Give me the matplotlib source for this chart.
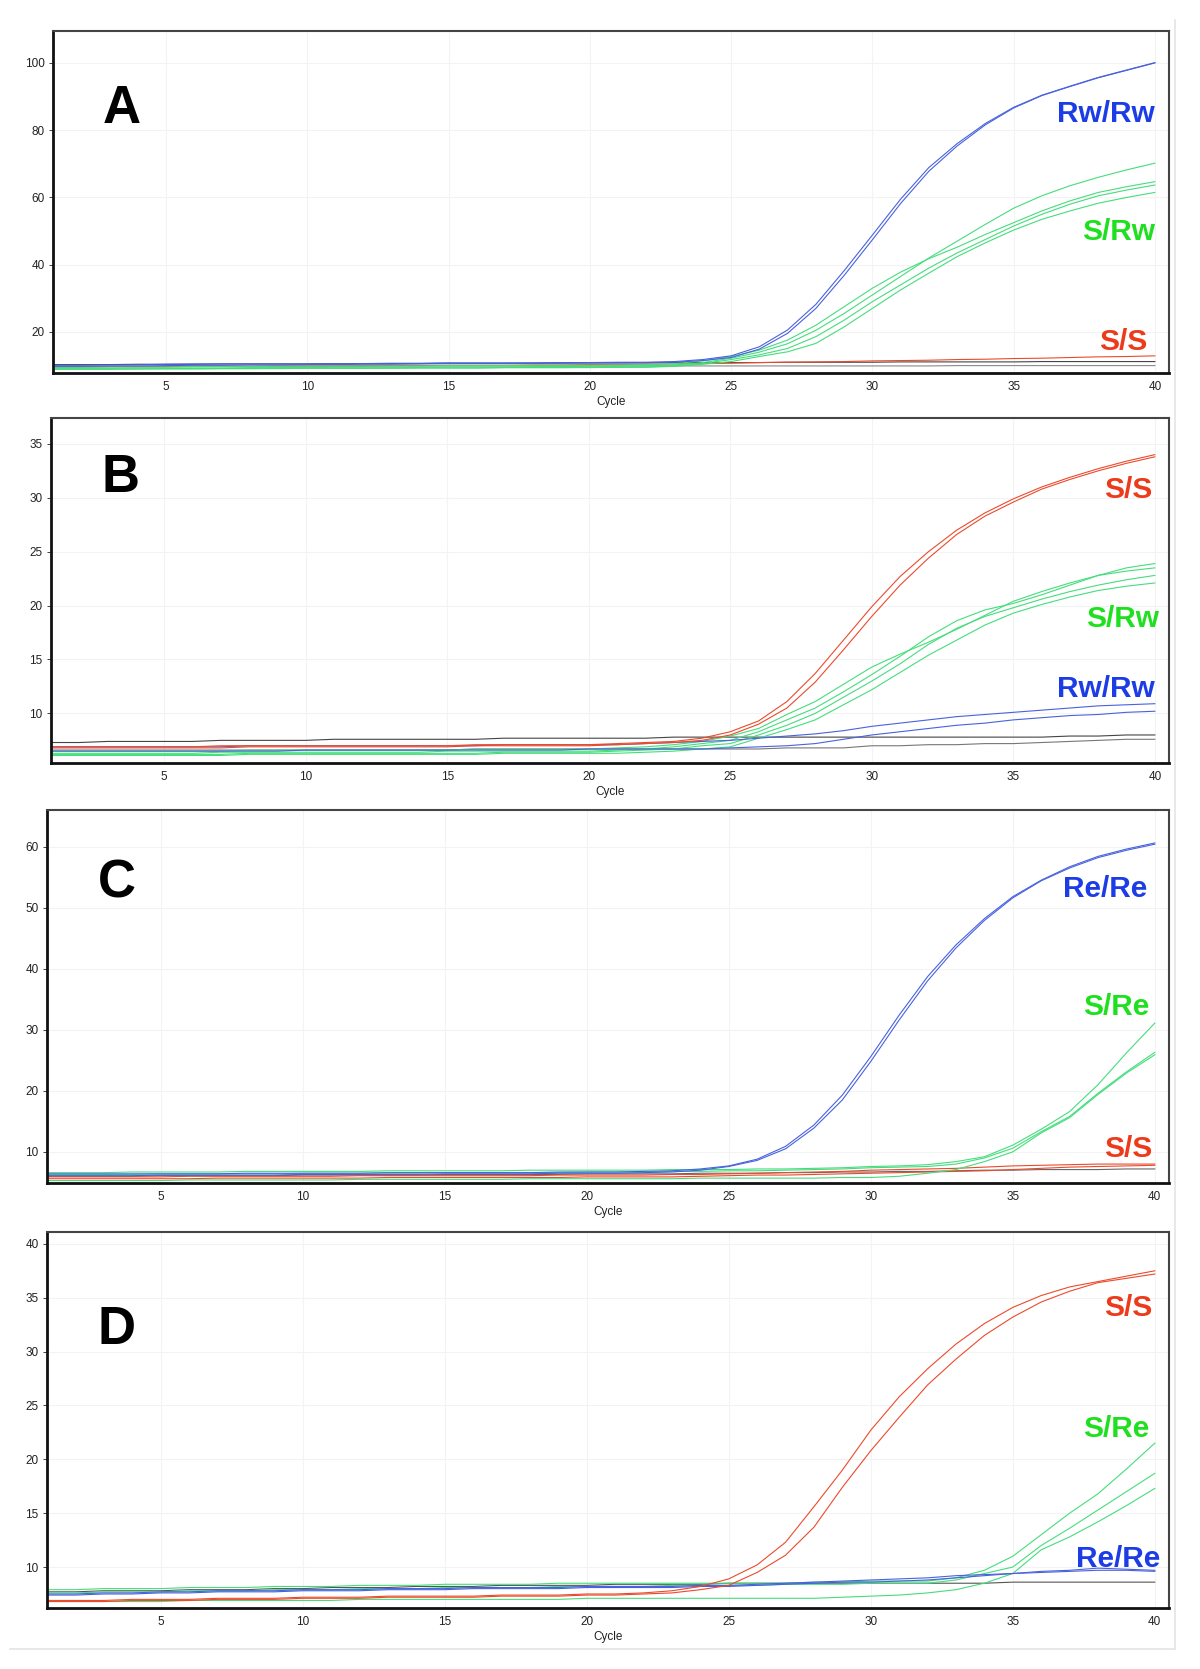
import numpy as np
import matplotlib
matplotlib.use("Agg")
import matplotlib.pyplot as plt
from matplotlib.lines import Line2D

plt.rcParams['font.family'] = ['Liberation Sans', 'DejaVu Sans']

cycles = np.arange(1, 41)

# ---- panel A ----
A_blue1 = [10.1,10.1,10.2,10.2,10.4,10.5,10.5,10.5,10.5,10.5,10.6,10.6,10.7,10.7,10.8,10.8,10.8,10.8,10.9,10.9,
           11.0,11.0,11.2,11.8,12.9,15.6,20.6,28.2,38.2,48.8,59.5,68.9,76.0,82.0,86.8,90.4,93.1,95.7,97.9,100.1]
A_blue2 = [9.8,9.8,9.9,9.9,10.0,10.1,10.1,10.2,10.2,10.3,10.3,10.4,10.4,10.5,10.6,10.6,10.6,10.7,10.7,10.8,
           10.8,10.9,11.0,11.5,12.4,14.9,19.6,27.0,36.8,47.4,58.2,67.8,75.3,81.6,86.6,90.3,93.0,95.6,97.8,100.0]
A_green1 = [9.2,9.2,9.2,9.3,9.3,9.3,9.3,9.4,9.4,9.4,9.5,9.5,9.5,9.5,9.6,9.6,9.6,9.7,9.7,9.8,
            9.8,9.9,10.2,10.9,12.2,14.0,16.5,20.5,25.5,31.0,36.5,42.0,47.0,52.0,56.8,60.5,63.5,66.0,68.2,70.2]
A_green2 = [9.5,9.5,9.6,9.6,9.6,9.7,9.7,9.7,9.8,9.8,9.8,9.9,9.9,9.9,10.0,10.0,10.0,10.1,10.1,10.1,
            10.2,10.3,10.6,11.4,12.7,14.6,17.6,22.0,27.5,33.0,37.8,41.8,45.2,49.0,52.5,56.0,59.0,61.5,63.2,64.7]
A_green3 = [8.9,8.9,8.9,9.0,9.0,9.0,9.1,9.1,9.1,9.2,9.2,9.2,9.2,9.3,9.3,9.3,9.4,9.4,9.4,9.5,
            9.5,9.6,9.9,10.6,11.8,13.2,15.1,18.6,23.5,29.0,34.0,39.0,43.5,47.5,51.5,55.0,58.0,60.5,62.2,63.7]
A_green4 = [9.0,9.0,9.0,9.0,9.1,9.1,9.1,9.1,9.2,9.2,9.2,9.2,9.3,9.3,9.3,9.3,9.4,9.4,9.4,9.4,
            9.5,9.5,9.8,10.4,11.2,12.7,14.1,16.6,21.5,27.0,32.5,37.5,42.4,46.5,50.3,53.5,56.0,58.3,60.0,61.5]
A_red = [9.6,9.6,9.7,9.7,9.7,9.8,9.8,9.8,9.9,9.9,9.9,10.0,10.0,10.0,10.1,10.1,10.1,10.2,10.2,10.3,
         10.3,10.4,10.5,10.6,10.7,10.9,11.0,11.1,11.2,11.4,11.5,11.6,11.8,11.9,12.1,12.2,12.4,12.6,12.7,12.9]
A_black1 = [10.3,10.3,10.3,10.4,10.4,10.4,10.5,10.5,10.5,10.5,10.6,10.6,10.6,10.6,10.7,10.7,10.7,10.7,10.8,10.8,
            10.8,10.8,10.9,10.9,10.9,10.9,11.0,11.0,11.0,11.0,11.1,11.1,11.1,11.1,11.1,11.2,11.2,11.2,11.2,11.2]
A_black2 = [9.7,9.7,9.7,9.7,9.7,9.8,9.8,9.8,9.8,9.8,9.8,9.8,9.9,9.9,9.9,9.9,9.9,9.9,9.9,9.9,
            9.9,9.9,9.9,9.9,9.9,9.9,9.9,9.9,9.9,9.9,9.9,9.9,10.0,10.0,10.0,10.0,10.0,10.0,10.0,10.0]

# ---- panel B ----
B_red1 = [6.9,6.9,6.9,6.9,6.9,6.9,7.0,7.0,7.0,7.0,7.0,7.0,7.0,7.0,7.0,7.1,7.1,7.1,7.1,7.1,
          7.2,7.3,7.4,7.7,8.3,9.3,11.1,13.7,16.8,19.9,22.7,25.0,27.0,28.6,29.9,31.0,31.9,32.7,33.4,34.0]
B_red2 = [6.8,6.8,6.8,6.8,6.8,6.8,6.8,6.9,6.9,6.9,6.9,6.9,6.9,6.9,6.9,7.0,7.0,7.0,7.0,7.0,
          7.1,7.2,7.3,7.5,8.0,9.0,10.5,12.9,15.9,19.0,21.9,24.4,26.6,28.3,29.6,30.8,31.7,32.5,33.2,33.8]
B_green1 = [6.5,6.5,6.5,6.5,6.5,6.5,6.5,6.6,6.6,6.6,6.6,6.6,6.6,6.6,6.6,6.7,6.7,6.7,6.7,6.7,
            6.8,6.9,7.1,7.4,7.9,8.6,9.9,11.1,12.7,14.3,15.5,16.6,17.8,19.1,20.4,21.3,22.1,22.8,23.2,23.5]
B_green2 = [6.3,6.3,6.3,6.3,6.3,6.3,6.4,6.4,6.4,6.4,6.4,6.4,6.4,6.4,6.5,6.5,6.5,6.5,6.5,6.5,
            6.6,6.7,6.9,7.2,7.5,8.3,9.4,10.5,12.0,13.6,15.3,17.1,18.6,19.6,20.2,21.0,21.9,22.8,23.5,23.9]
B_green3 = [6.2,6.2,6.2,6.2,6.2,6.2,6.2,6.3,6.3,6.3,6.3,6.3,6.3,6.3,6.3,6.3,6.4,6.4,6.4,6.4,
            6.5,6.6,6.7,7.0,7.2,8.0,8.9,10.0,11.5,13.0,14.6,16.4,17.9,19.0,19.8,20.6,21.3,21.9,22.4,22.8]
B_green4 = [6.1,6.1,6.1,6.1,6.1,6.1,6.1,6.2,6.2,6.2,6.2,6.2,6.2,6.2,6.2,6.2,6.3,6.3,6.3,6.3,
            6.3,6.4,6.5,6.7,6.9,7.7,8.5,9.4,10.8,12.2,13.8,15.4,16.8,18.2,19.3,20.1,20.8,21.4,21.8,22.1]
B_blue1 = [6.9,6.9,6.9,6.9,6.9,6.9,6.9,7.0,7.0,7.0,7.0,7.0,7.0,7.0,7.0,7.0,7.1,7.1,7.1,7.1,
           7.1,7.2,7.3,7.4,7.5,7.7,7.9,8.1,8.4,8.8,9.1,9.4,9.7,9.9,10.1,10.3,10.5,10.7,10.8,10.9]
B_blue2 = [6.5,6.5,6.5,6.5,6.5,6.5,6.5,6.5,6.5,6.6,6.6,6.6,6.6,6.6,6.6,6.6,6.6,6.6,6.6,6.7,
           6.7,6.7,6.7,6.7,6.8,6.9,7.0,7.2,7.6,8.0,8.3,8.6,8.9,9.1,9.4,9.6,9.8,9.9,10.1,10.2]
B_black1 = [7.3,7.3,7.4,7.4,7.4,7.4,7.5,7.5,7.5,7.5,7.6,7.6,7.6,7.6,7.6,7.6,7.7,7.7,7.7,7.7,
            7.7,7.7,7.8,7.8,7.8,7.8,7.8,7.8,7.8,7.8,7.8,7.8,7.8,7.8,7.8,7.8,7.9,7.9,8.0,8.0]
B_black2 = [6.6,6.6,6.6,6.6,6.6,6.6,6.6,6.6,6.6,6.6,6.6,6.6,6.6,6.6,6.6,6.7,6.7,6.7,6.7,6.7,
            6.7,6.7,6.7,6.7,6.7,6.7,6.8,6.8,6.8,7.0,7.0,7.1,7.1,7.2,7.2,7.3,7.4,7.5,7.6,7.6]

# ---- panel C ----
C_blue1 = [6.4,6.4,6.4,6.4,6.4,6.4,6.4,6.5,6.5,6.5,6.5,6.5,6.6,6.6,6.6,6.6,6.6,6.6,6.7,6.7,
           6.7,6.8,6.9,7.2,7.7,8.8,10.9,14.4,19.3,25.6,32.4,38.7,43.9,48.2,51.8,54.5,56.7,58.4,59.6,60.6]
C_blue2 = [6.1,6.1,6.1,6.1,6.2,6.2,6.2,6.2,6.2,6.3,6.3,6.3,6.3,6.3,6.4,6.4,6.4,6.4,6.5,6.5,
           6.5,6.6,6.7,7.0,7.6,8.6,10.5,13.9,18.5,24.8,31.6,38.0,43.4,47.9,51.6,54.4,56.5,58.2,59.4,60.4]
C_green1 = [6.6,6.6,6.6,6.7,6.7,6.7,6.7,6.8,6.8,6.8,6.8,6.8,6.9,6.9,6.9,6.9,6.9,7.0,7.0,7.0,
            7.0,7.0,7.1,7.1,7.1,7.2,7.2,7.3,7.4,7.6,7.7,7.9,8.4,9.2,11.1,13.7,16.6,21.0,26.2,31.1]
C_green2 = [6.3,6.3,6.3,6.3,6.4,6.4,6.4,6.4,6.4,6.5,6.5,6.5,6.5,6.5,6.6,6.6,6.6,6.6,6.6,6.7,
            6.7,6.7,6.8,6.8,6.9,6.9,7.0,7.1,7.2,7.4,7.5,7.6,8.0,9.0,10.6,13.3,15.8,19.6,23.1,26.3]
C_green3 = [5.3,5.3,5.3,5.3,5.3,5.4,5.4,5.4,5.4,5.4,5.4,5.5,5.5,5.5,5.5,5.5,5.5,5.6,5.6,5.6,
            5.6,5.6,5.6,5.7,5.7,5.7,5.7,5.7,5.8,5.8,6.0,6.5,7.1,8.4,10.0,13.1,15.6,19.4,22.9,25.9]
C_red1 = [5.9,5.9,5.9,5.9,5.9,6.0,6.0,6.0,6.0,6.0,6.0,6.1,6.1,6.1,6.1,6.1,6.1,6.1,6.2,6.2,
          6.2,6.2,6.3,6.3,6.4,6.5,6.6,6.7,6.8,7.0,7.1,7.2,7.3,7.5,7.7,7.8,7.9,8.0,8.0,8.0]
C_red2 = [5.6,5.6,5.6,5.6,5.6,5.6,5.7,5.7,5.7,5.7,5.7,5.7,5.8,5.8,5.8,5.8,5.8,5.8,5.8,5.9,
          5.9,5.9,5.9,6.0,6.1,6.2,6.2,6.3,6.4,6.5,6.6,6.7,6.8,6.9,7.1,7.3,7.5,7.6,7.7,7.8]
C_black = [6.0,6.0,6.0,6.0,6.1,6.1,6.1,6.1,6.1,6.2,6.2,6.2,6.2,6.2,6.3,6.3,6.3,6.3,6.3,6.4,
           6.4,6.4,6.4,6.5,6.5,6.5,6.6,6.6,6.7,6.7,6.8,6.8,6.9,7.0,7.0,7.1,7.1,7.1,7.2,7.2]

# ---- panel D ----
D_red1 = [6.9,6.9,6.9,7.0,7.0,7.0,7.1,7.1,7.1,7.2,7.2,7.2,7.3,7.3,7.3,7.3,7.4,7.4,7.4,7.5,
          7.5,7.6,7.8,8.2,8.9,10.2,12.3,15.6,19.0,22.7,25.8,28.4,30.7,32.6,34.1,35.2,36.0,36.5,37.0,37.5]
D_red2 = [6.8,6.8,6.8,6.9,6.9,6.9,7.0,7.0,7.0,7.1,7.1,7.1,7.2,7.2,7.2,7.2,7.3,7.3,7.3,7.4,
          7.4,7.5,7.6,7.9,8.3,9.5,11.1,13.7,17.4,20.8,23.9,26.9,29.3,31.5,33.2,34.6,35.6,36.4,36.8,37.2]
D_green1 = [7.9,7.9,8.0,8.0,8.0,8.1,8.1,8.1,8.2,8.2,8.2,8.3,8.3,8.3,8.4,8.4,8.4,8.4,8.5,8.5,
            8.5,8.5,8.5,8.5,8.5,8.5,8.5,8.6,8.6,8.7,8.7,8.7,9.0,9.7,11.0,13.0,15.0,16.8,19.1,21.5]
D_green2 = [7.6,7.6,7.7,7.7,7.7,7.8,7.8,7.8,7.9,7.9,7.9,8.0,8.0,8.0,8.1,8.1,8.1,8.1,8.2,8.2,
            8.2,8.2,8.3,8.3,8.3,8.3,8.4,8.4,8.4,8.5,8.5,8.5,8.8,9.4,10.0,12.0,13.6,15.3,17.0,18.7]
D_green3 = [6.8,6.8,6.8,6.8,6.8,6.9,6.9,6.9,6.9,6.9,6.9,7.0,7.0,7.0,7.0,7.0,7.0,7.0,7.0,7.1,
            7.1,7.1,7.1,7.1,7.1,7.1,7.1,7.1,7.2,7.3,7.4,7.6,7.9,8.5,9.4,11.6,12.8,14.2,15.7,17.3]
D_blue1 = [7.5,7.5,7.6,7.6,7.7,7.7,7.8,7.8,7.8,7.9,7.9,7.9,8.0,8.0,8.0,8.1,8.1,8.1,8.1,8.2,
           8.2,8.2,8.2,8.3,8.3,8.4,8.5,8.6,8.7,8.8,8.9,9.0,9.2,9.3,9.4,9.6,9.7,9.9,9.8,9.7]
D_blue2 = [7.4,7.4,7.5,7.5,7.6,7.6,7.7,7.7,7.7,7.8,7.8,7.8,7.9,7.9,7.9,8.0,8.0,8.0,8.0,8.1,
           8.1,8.1,8.1,8.2,8.2,8.3,8.4,8.5,8.6,8.6,8.7,8.8,9.0,9.2,9.4,9.5,9.6,9.7,9.7,9.6]
D_black = [7.7,7.7,7.8,7.8,7.8,7.9,7.9,7.9,8.0,8.0,8.1,8.1,8.1,8.2,8.2,8.2,8.3,8.3,8.3,8.3,
           8.4,8.4,8.4,8.4,8.5,8.5,8.5,8.5,8.5,8.5,8.5,8.5,8.5,8.5,8.6,8.6,8.6,8.6,8.6,8.6]

BLUE_LINE, GREEN_LINE, RED_LINE = '#4862de', '#45dd7c', '#ec4a2c'
BLUE_TXT, GREEN_TXT, RED_TXT = '#1c3ce6', '#1fe01f', '#ec3a1a'

# pixel boxes (left, top, right, bottom) on the 1200x1669 canvas
panels = [
    dict(letter='A', box=(53, 31, 1169, 373), ylim=(7.8, 109.5), yticks=[20, 40, 60, 80, 100],
         letter_y=82.2,
         lines=[(A_black1, '#444444'), (A_black2, '#888888'), (A_red, RED_LINE),
                (A_green1, GREEN_LINE), (A_green2, GREEN_LINE), (A_green3, GREEN_LINE), (A_green4, GREEN_LINE),
                (A_blue1, BLUE_LINE), (A_blue2, BLUE_LINE)],
         labels=[('Rw/Rw', 40.0, 82.5, BLUE_TXT), ('S/Rw', 40.0, 47.4, GREEN_TXT), ('S/S', 39.75, 14.6, RED_TXT)]),
    dict(letter='B', box=(51, 418, 1169, 763), ylim=(5.4, 37.4), yticks=[10, 15, 20, 25, 30, 35],
         letter_y=30.5,
         lines=[(B_black1, '#444444'), (B_black2, '#777777'),
                (B_green1, GREEN_LINE), (B_green2, GREEN_LINE), (B_green3, GREEN_LINE), (B_green4, GREEN_LINE),
                (B_blue1, BLUE_LINE), (B_blue2, BLUE_LINE), (B_red1, RED_LINE), (B_red2, RED_LINE)],
         labels=[('S/S', 39.9, 30.0, RED_TXT), ('S/Rw', 40.15, 18.0, GREEN_TXT), ('Rw/Rw', 40.0, 11.5, BLUE_TXT)]),
    dict(letter='C', box=(47, 810, 1169, 1183), ylim=(4.9, 66), yticks=[10, 20, 30, 40, 50, 60],
         letter_y=51.7,
         lines=[(C_black, '#666666'), (C_red1, RED_LINE), (C_red2, RED_LINE),
                (C_green1, GREEN_LINE), (C_green2, GREEN_LINE), (C_green3, GREEN_LINE),
                (C_blue1, BLUE_LINE), (C_blue2, BLUE_LINE)],
         labels=[('Re/Re', 39.75, 51.8, BLUE_TXT), ('S/Re', 39.8, 32.5, GREEN_TXT), ('S/S', 39.9, 9.2, RED_TXT)]),
    dict(letter='D', box=(47, 1232, 1169, 1608), ylim=(6.2, 41.1), yticks=[10, 15, 20, 25, 30, 35, 40],
         letter_y=30.7,
         lines=[(D_black, '#555555'), (D_green1, GREEN_LINE), (D_green2, GREEN_LINE), (D_green3, GREEN_LINE),
                (D_blue1, BLUE_LINE), (D_blue2, BLUE_LINE), (D_red1, RED_LINE), (D_red2, RED_LINE)],
         labels=[('S/S', 39.9, 33.3, RED_TXT), ('S/Re', 39.8, 22.1, GREEN_TXT), ('Re/Re', 40.2, 10.0, BLUE_TXT)]),
]

W, H = 1200, 1669
fig = plt.figure(figsize=(W / 100, H / 100), dpi=100)
fig.patch.set_facecolor('white')

for p in panels:
    l, t, r, b = p['box']
    ax = fig.add_axes([l / W, 1 - b / H, (r - l) / W, (b - t) / H])
    for vals, col in p['lines']:
        ax.plot(cycles, vals, color=col, linewidth=0.8)
    ax.set_xlim(1, 40.5)
    ax.set_ylim(*p['ylim'])
    ax.set_xticks([5, 10, 15, 20, 25, 30, 35, 40])
    ax.set_yticks(p['yticks'])
    ax.grid(True, color='#f3f3f3', linewidth=0.8)
    ax.set_axisbelow(True)
    ax.tick_params(axis='both', labelsize=8.5, colors='#222222', length=3, width=0.6, pad=3)
    ax.tick_params(axis='x', length=0, pad=6)
    for side in ('left', 'bottom'):
        ax.spines[side].set_linewidth(2.0)
        ax.spines[side].set_color('#111111')
    for side in ('top', 'right'):
        ax.spines[side].set_linewidth(1.5)
        ax.spines[side].set_color('#444444')
    ax.set_xlabel('Cycle', fontsize=8.5, color='#222222', labelpad=2)
    ax.text(3.45, p['letter_y'], p['letter'], fontsize=38, fontweight='bold',
            color='black', ha='center', va='baseline')
    for txt, x, y, col in p['labels']:
        ax.text(x, y, txt, fontsize=21.5, fontweight='bold', color=col, ha='right', va='baseline')

# faint frame of the original figure page
fig.add_artist(Line2D([1175 / W, 1175 / W], [1 - 20 / H, 1 - 1649 / H], color='#e4e4e4', linewidth=1.2))
fig.add_artist(Line2D([10 / W, 1175 / W], [1 - 1649 / H, 1 - 1649 / H], color='#e4e4e4', linewidth=1.2))

fig.savefig('out.png', dpi=100, facecolor='white')
